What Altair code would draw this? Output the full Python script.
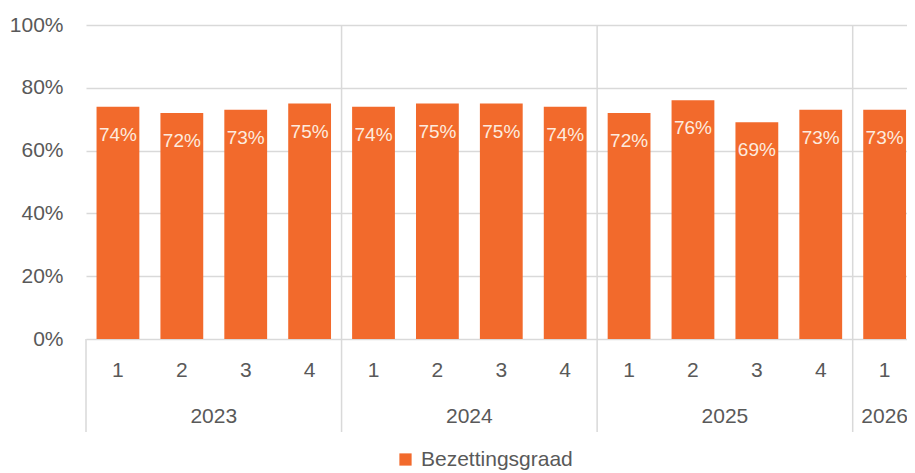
import altair as alt
import pandas as pd

years = ["2023"] * 4 + ["2024"] * 4 + ["2025"] * 4 + ["2026"]
quarters = ["1", "2", "3", "4", "1", "2", "3", "4", "1", "2", "3", "4", "1"]
values = [0.74, 0.72, 0.73, 0.75, 0.74, 0.75, 0.75, 0.74, 0.72, 0.76, 0.69, 0.73, 0.73]
series = "Bezettingsgraad"

ORANGE = "#F26A2C"
GRID = "#D9D9D9"
TXT = "#595959"
FONT = "Liberation Sans"

df = pd.DataFrame({"year": years, "quarter": quarters, "value": values})
df["i"] = range(len(df))
df["series"] = series

# plot area is cut at the right edge (last band partly outside view)
xscale = alt.Scale(domain=[0, 12.85], nice=False, zero=False)
yscale = alt.Scale(domain=[0, 1], nice=False)
yaxis = alt.Axis(values=[0, 0.2, 0.4, 0.6, 0.8, 1.0], format=".0%",
                 title=None, domain=False, ticks=False,
                 labelPadding=23, labelFontSize=21, labelColor=TXT,
                 labelFont=FONT, grid=True, gridColor=GRID, gridWidth=1.5)

base = alt.Chart(df)

bars = base.transform_calculate(
    x0="datum.i + 0.165", x1="datum.i + 0.835"
).mark_bar().encode(
    x=alt.X("x0:Q", scale=xscale, axis=None),
    x2="x1:Q",
    y=alt.Y("value:Q", scale=yscale, axis=yaxis),
    y2=alt.datum(0),
    color=alt.Color("series:N", scale=alt.Scale(range=[ORANGE]),
                    legend=alt.Legend(title=None, orient="none", legendX=309,
                                      legendY=424, symbolType="square",
                                      symbolSize=150, symbolStrokeWidth=0,
                                      labelFontSize=21, labelColor=TXT,
                                      labelFont=FONT, labelOffset=5)),
)

labels = base.transform_calculate(xc="datum.i + 0.5").mark_text(
    baseline="alphabetic", dy=34, fontSize=19, font=FONT, color="#FDEBDF"
).encode(
    x=alt.X("xc:Q", scale=xscale, axis=None),
    y=alt.Y("value:Q", scale=yscale, axis=yaxis),
    text=alt.Text("value:Q", format=".0%"),
)

qlabels = base.transform_calculate(xc="datum.i + 0.5").mark_text(
    baseline="alphabetic", fontSize=21, font=FONT, color=TXT
).encode(
    x=alt.X("xc:Q", scale=xscale, axis=None),
    y=alt.value(352),
    text="quarter:N",
)

ylabels = base.transform_calculate(xc="datum.i + 0.5").transform_aggregate(
    xc="mean(xc)", groupby=["year"]
).mark_text(baseline="alphabetic", fontSize=21, font=FONT, color=TXT).encode(
    x=alt.X("xc:Q", scale=xscale, axis=None),
    y=alt.value(398),
    text="year:N",
)

starts = base.transform_aggregate(start="min(i)", groupby=["year"])

dividers = starts.transform_filter("datum.start > 0").mark_rule(
    color=GRID, strokeWidth=1.5
).encode(
    x=alt.X("start:Q", scale=xscale, axis=None),
    y=alt.value(0),
    y2=alt.value(407),
)

leftline = starts.transform_filter("datum.start == 0").mark_rule(
    color=GRID, strokeWidth=1.5
).encode(
    x=alt.X("start:Q", scale=xscale, axis=None),
    y=alt.value(314),
    y2=alt.value(407),
)

chart = alt.layer(dividers, leftline, bars, labels, qlabels, ylabels).properties(
    width=821, height=314,
    padding={"left": 78, "top": 17, "right": 0, "bottom": 134},
    autosize=alt.AutoSizeParams(type="none"),
).configure_view(strokeWidth=0)

chart.save("out.html", embed_options={"renderer": "svg", "actions": False})
